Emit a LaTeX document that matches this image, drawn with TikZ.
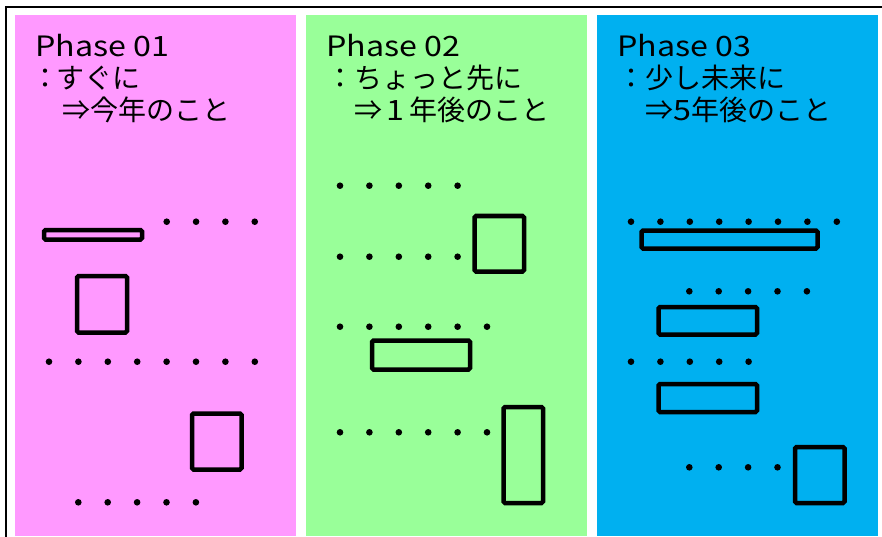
\documentclass[tikz,border=0pt]{standalone}
\usepackage{fontspec}
\setmainfont{Noto Sans CJK JP}
\newfontfamily\latn{Noto Sans CJK JP}[FakeStretch=1.15]
\definecolor{pinkp}{HTML}{FF99FF}
\definecolor{greenp}{HTML}{99FF99}
\definecolor{bluep}{HTML}{00B0F0}
\begin{document}
\begin{tikzpicture}[x=1pt,y=-1pt,
  lbl/.style={anchor=base west,inner sep=0pt,font=\fontsize{28}{32}\selectfont},
  bar/.style={draw=black,line width=4.5pt,rounded corners=1.5pt},
  dotmark/.style={fill=black}]
\useasboundingbox (0,0) rectangle (882,537);
\fill[white] (0,0) rectangle (882,537);
% panels
\fill[pinkp] (15,15) rectangle (296,536);
\fill[greenp] (306,15) rectangle (587,536);
\fill[bluep] (597,15) rectangle (878,536);
% frame
\draw[line width=2pt] (6,537) -- (6,7) -- (882,7);
% texts
\node[lbl] (t1a) at (35,56.5) {\latn Phase 01};
\node[lbl] (t1b) at (35,89) {\makebox[21pt][c]{：}すぐに};
\node[lbl] (t1c) at (35,121) {\hspace*{27pt}⇒今年のこと};
\node[lbl] (t2a) at (326,56.5) {\latn Phase 02};
\node[lbl] (t2b) at (326,89) {：ちょっと先に};
\node[lbl] (t2c) at (326,121) {\hspace*{28pt}⇒{\latn\,1\,}年後のこと};
\node[lbl] (t3a) at (617,56.5) {\latn Phase 03};
\node[lbl] (t3b) at (617,89) {：少し未来に};
\node[lbl] (t3c) at (617,121) {\hspace*{28pt}⇒{\latn 5}年後のこと};
% panel 1
\foreach \i in {0,...,3} \fill[dotmark] (166.7+29.35*\i,221.7) circle (3.3);
\draw[bar] (44,230) rectangle (142,239.5);
\draw[bar] (77,276) rectangle (127,332.5);
\foreach \i in {0,...,7} \fill[dotmark] (49+29.4*\i,361.7) circle (3.3);
\draw[bar] (192,413.5) rectangle (241.5,469.5);
\foreach \i in {0,...,4} \fill[dotmark] (78.3+29.4*\i,502.3) circle (3.3);
% panel 2
\foreach \i in {0,...,4} \fill[dotmark] (340+29.4*\i,185.7) circle (3.3);
\draw[bar] (474.5,216) rectangle (524,271.5);
\foreach \i in {0,...,4} \fill[dotmark] (340+29.4*\i,256.7) circle (3.3);
\foreach \i in {0,...,5} \fill[dotmark] (340+29.4*\i,326.7) circle (3.3);
\draw[bar] (372,340.5) rectangle (470,369.5);
\foreach \i in {0,...,5} \fill[dotmark] (340+29.4*\i,432.3) circle (3.3);
\draw[bar] (503.5,407) rectangle (543,503);
% panel 3
\foreach \i in {0,...,7} \fill[dotmark] (631+29.4*\i,221.7) circle (3.3);
\draw[bar] (641.5,230.5) rectangle (817.5,248.5);
\foreach \i in {0,...,4} \fill[dotmark] (689.3+29.4*\i,291.3) circle (3.3);
\draw[bar] (658.5,307) rectangle (757,334.5);
\foreach \i in {0,...,4} \fill[dotmark] (631+29.4*\i,361.7) circle (3.3);
\draw[bar] (658.5,384) rectangle (757,412);
\foreach \i in {0,...,3} \fill[dotmark] (689.3+29.4*\i,467.3) circle (3.3);
\draw[bar] (795,447) rectangle (844.5,503);
\end{tikzpicture}
\end{document}
